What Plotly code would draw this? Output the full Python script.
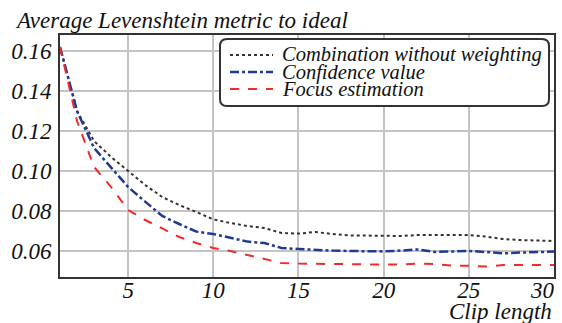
import plotly.graph_objects as go

clip_length = list(range(1, 31))
combination = [0.162, 0.130, 0.115, 0.107, 0.100, 0.093, 0.087, 0.083, 0.0795, 0.0758,
               0.074, 0.0725, 0.0715, 0.069, 0.0687, 0.0695, 0.0685, 0.0678, 0.0677, 0.0675,
               0.0675, 0.068, 0.068, 0.068, 0.068, 0.0672, 0.066, 0.0655, 0.0652, 0.065]
confidence = [0.162, 0.130, 0.1115, 0.102, 0.092, 0.0847, 0.0775, 0.0735, 0.0697, 0.0685,
              0.0665, 0.0647, 0.064, 0.0615, 0.061, 0.0605, 0.0602, 0.060, 0.060, 0.0598,
              0.0602, 0.0608, 0.0595, 0.0599, 0.060, 0.0595, 0.0588, 0.0592, 0.0595, 0.0597]
focus = [0.162, 0.125, 0.102, 0.092, 0.0805, 0.0755, 0.0713, 0.067, 0.064, 0.0615,
         0.060, 0.058, 0.056, 0.054, 0.0537, 0.0536, 0.0534, 0.0532, 0.0531, 0.0532,
         0.0533, 0.0537, 0.0535, 0.0527, 0.0526, 0.0522, 0.053, 0.053, 0.053, 0.053]

series_names = ["Combination without weighting", "Confidence value", "Focus estimation"]
series_colors = ["#333333", "#1f3a93", "#ee2c2c"]
series_dash = ["dot", "dashdot", "dash"]
series_width = [2, 2.5, 2]

x_tickvals = [5, 10, 15, 20, 25, 30]
x_ticktext = ["5", "10", "15", "20", "25", "30\u00a0\u00a0\u00a0\u00a0"]
y_tickvals = [0.06, 0.08, 0.10, 0.12, 0.14, 0.16]
y_ticktext = ["0.06", "0.08", "0.10", "0.12", "0.14", "0.16"]

FONT = "Liberation Serif"
TXT = "#111111"

fig = go.Figure()
for name, ys, c, d, w in zip(series_names, [combination, confidence, focus],
                             series_colors, series_dash, series_width):
    fig.add_trace(go.Scatter(x=clip_length, y=ys, mode="lines", name=name,
                             line=dict(color=c, dash=d, width=w), showlegend=False))

W, H = 562, 323
ml, mr, mt, mb = 60, 8, 35, 46
pw, ph = W - ml - mr, H - mt - mb


def px_x(px):
    return (px - ml) / pw


def px_y(py):
    return (H - mb - py) / ph


# Manual rounded legend box
bx0, bx1, by0, by1, r = 220, 549, 39, 106, 7
rx, ry = r / pw, r / ph
X0, X1, Y0, Y1 = px_x(bx0), px_x(bx1), px_y(by1), px_y(by0)
path = (f"M {X0+rx},{Y0} L {X1-rx},{Y0} Q {X1},{Y0} {X1},{Y0+ry} "
        f"L {X1},{Y1-ry} Q {X1},{Y1} {X1-rx},{Y1} L {X0+rx},{Y1} "
        f"Q {X0},{Y1} {X0},{Y1-ry} L {X0},{Y0+ry} Q {X0},{Y0} {X0+rx},{Y0} Z")
shapes = [dict(type="path", path=path, xref="paper", yref="paper",
               line=dict(color="#333333", width=2), fillcolor="white", layer="above")]
annotations = []
row_y = [55, 72, 89]
for name, c, d, w, ry_ in zip(series_names, series_colors, series_dash, series_width, row_y):
    shapes.append(dict(type="line", xref="paper", yref="paper",
                       x0=px_x(230), x1=px_x(273), y0=px_y(ry_), y1=px_y(ry_),
                       line=dict(color=c, dash=d, width=w), layer="above"))
    annotations.append(dict(text=name, xref="paper", yref="paper", x=px_x(280), y=px_y(ry_),
                            xanchor="left", yanchor="middle", showarrow=False,
                            font=dict(family=FONT, size=20.5, color=TXT, style="italic")))

annotations.append(dict(text="Average Levenshtein metric to ideal", xref="paper", yref="paper",
                        x=px_x(13), y=px_y(20), xanchor="left", yanchor="middle", showarrow=False,
                        font=dict(family=FONT, size=23, color=TXT, style="italic")))
annotations.append(dict(text="Clip length", xref="paper", yref="paper",
                        x=1, y=px_y(311), xanchor="right", yanchor="middle", showarrow=False,
                        font=dict(family=FONT, size=23, color=TXT, style="italic")))

axis_common = dict(showgrid=True, gridcolor="#c4c4c4", gridwidth=1.5, zeroline=False,
                   showline=True, linecolor="#333333", linewidth=2, mirror=True,
                   ticks="", ticklabeloverflow="allow", automargin=False,
                   tickfont=dict(family=FONT, size=23, color=TXT, style="italic"))

fig.update_layout(
    width=W, height=H, margin=dict(l=ml, r=mr, t=mt, b=mb, autoexpand=False),
    paper_bgcolor="white", plot_bgcolor="white",
    xaxis=dict(range=[1, 30], tickvals=x_tickvals, ticktext=x_ticktext,
               ticklabelstandoff=-9, **axis_common),
    yaxis=dict(range=[0.047, 0.168], tickvals=y_tickvals, ticktext=y_ticktext,
               ticklabelstandoff=2, **axis_common),
    shapes=shapes, annotations=annotations,
)

fig.write_html("out.html")
